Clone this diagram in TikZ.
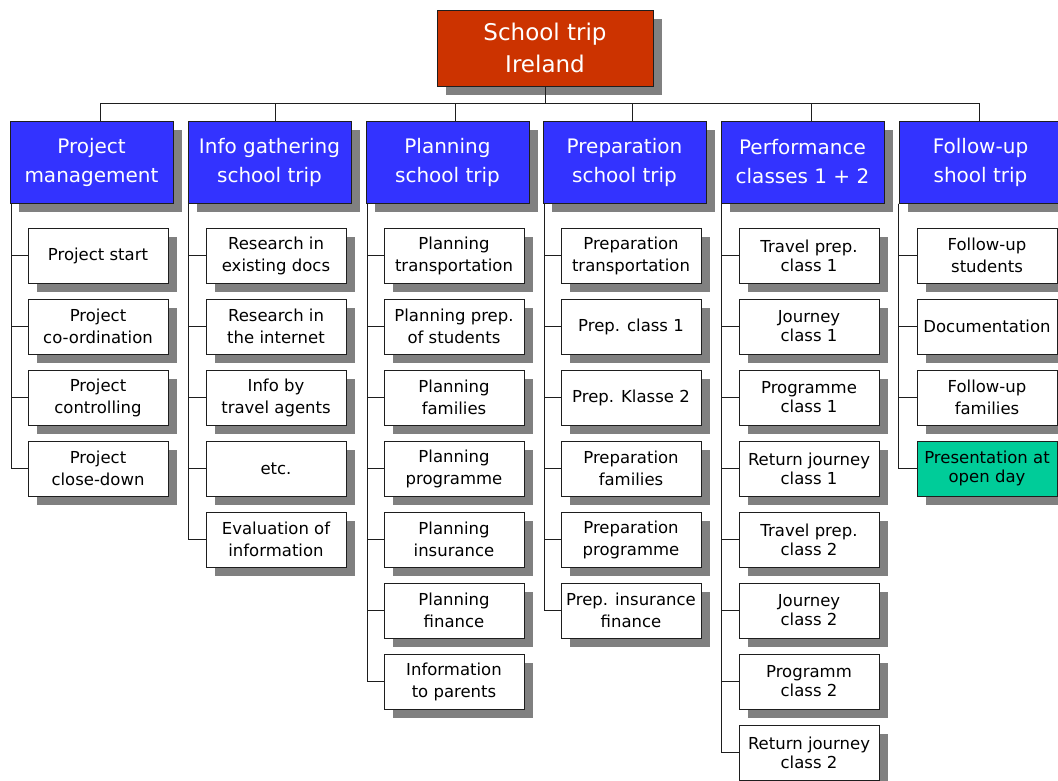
\documentclass[tikz,border=0pt]{standalone}
\usepackage{fontspec}
\setmainfont{DejaVu Sans}
\definecolor{triprust}{RGB}{204,51,0}
\definecolor{tripblue}{RGB}{51,51,255}
\definecolor{tripgreen}{RGB}{0,204,153}
\definecolor{tripshadow}{RGB}{128,128,128}
\definecolor{tripline}{RGB}{30,30,30}
\usetikzlibrary{positioning,shadows,calc}

\begin{document}
\begin{tikzpicture}[x=1pt, y=-1pt,
        shadowed/.style={drop shadow={shadow xshift=9pt, shadow yshift=-9pt,
                         fill=tripshadow, opacity=1}},
        rootbox/.style={rectangle, draw=tripline, line width=1pt, fill=triprust,
                        shadowed, text=white, minimum width=216pt, minimum height=76pt,
                        align=center, font=\fontsize{23}{32}\selectfont},
        headbox/.style={rectangle, draw=tripline, line width=1pt, fill=tripblue,
                        shadowed, text=white, minimum width=163pt, minimum height=82pt,
                        align=center, inner sep=1pt, font=\fontsize{20}{29}\selectfont},
        taskbox/.style={rectangle, draw=tripline, line width=1pt, fill=white,
                        shadowed, minimum width=140pt, minimum height=55pt,
                        align=center, inner sep=1pt, font=\fontsize{16.5}{22}\selectfont},
        tightbox/.style={taskbox, font=\fontsize{16.5}{19}\selectfont},
        conn/.style={draw=tripline, line width=1pt}
      ]
        \useasboundingbox (0,0) rectangle (1058,780);

        % top of the tree
        \node[rootbox] (root) at (545,48) {School trip\\Ireland};
        \coordinate (bus) at (0,103);

        \node[headbox] (pm)     at (91.5,162)  {Project\\management};
        \node[headbox] (info)   at (269.5,162) {Info gathering\\school trip};
        \node[headbox] (plan)   at (447.5,162) {Planning\\school trip};
        \node[headbox] (prep)   at (624.5,162) {Preparation\\school trip};
        \node[headbox] (perf)   at (802.5,162) {Performance\\classes 1 + 2};
        \node[headbox] (follow) at (980.5,162) {Follow-up\\shool trip};

        \draw[conn] (root.south) -- (root.south |- bus);
        \draw[conn] ([xshift=8.5pt]pm.north)     |- (bus -| root.south);
        \draw[conn] ([xshift=5.5pt]info.north)   |- (bus -| root.south);
        \draw[conn] ([xshift=7.5pt]plan.north)   |- (bus -| root.south);
        \draw[conn] ([xshift=7.5pt]prep.north)   |- (bus -| root.south);
        \draw[conn] ([xshift=8.5pt]perf.north)   |- (bus -| root.south);
        \draw[conn] ([xshift=-1.5pt]follow.north) |- (bus -| root.south);

        % project management
        \node[taskbox] (pm1) at (98,255.5) {Project start};
        \node[taskbox] (pm2) at (98,326.5) {Project\\co-ordination};
        \node[taskbox] (pm3) at (98,397.5) {Project\\controlling};
        \node[taskbox] (pm4) at (98,468.5) {Project\\close-down};

        \draw[conn] ([xshift=2pt]pm.south west) |- (pm1.west);
        \draw[conn] ([xshift=2pt]pm.south west) |- (pm2.west);
        \draw[conn] ([xshift=2pt]pm.south west) |- (pm3.west);
        \draw[conn] ([xshift=2pt]pm.south west) |- (pm4.west);

        % info gathering
        \node[taskbox] (info1) at (276,255.5) {Research in\\existing docs};
        \node[taskbox] (info2) at (276,326.5) {Research in\\the internet};
        \node[taskbox] (info3) at (276,397.5) {Info by\\travel agents};
        \node[taskbox] (info4) at (276,468.5) {etc.};
        \node[taskbox] (info5) at (276,539.5) {Evaluation of\\information};

        \draw[conn] ([xshift=1pt]info.south west) |- (info1.west);
        \draw[conn] ([xshift=1pt]info.south west) |- (info2.west);
        \draw[conn] ([xshift=1pt]info.south west) |- (info3.west);
        \draw[conn] ([xshift=1pt]info.south west) |- (info4.west);
        \draw[conn] ([xshift=1pt]info.south west) |- (info5.west);

        % planning
        \node[taskbox] (plan1) at (454,255.5) {Planning\\transportation};
        \node[taskbox] (plan2) at (454,326.5) {Planning prep.\\of students};
        \node[taskbox] (plan3) at (454,397.5) {Planning\\families};
        \node[taskbox] (plan4) at (454,468.5) {Planning\\programme};
        \node[taskbox] (plan5) at (454,539.5) {Planning\\insurance};
        \node[taskbox] (plan6) at (454,610.5) {Planning\\finance};
        \node[taskbox] (plan7) at (454,681.5) {Information\\to parents};

        \draw[conn] ([xshift=2pt]plan.south west) |- (plan1.west);
        \draw[conn] ([xshift=2pt]plan.south west) |- (plan2.west);
        \draw[conn] ([xshift=2pt]plan.south west) |- (plan3.west);
        \draw[conn] ([xshift=2pt]plan.south west) |- (plan4.west);
        \draw[conn] ([xshift=2pt]plan.south west) |- (plan5.west);
        \draw[conn] ([xshift=2pt]plan.south west) |- (plan6.west);
        \draw[conn] ([xshift=2pt]plan.south west) |- (plan7.west);

        % preparation
        \node[taskbox] (prep1) at (631,255.5) {Preparation\\transportation};
        \node[taskbox] (prep2) at (631,326.5) {Prep. class 1};
        \node[taskbox] (prep3) at (631,397.5) {Prep. Klasse 2};
        \node[taskbox] (prep4) at (631,468.5) {Preparation\\families};
        \node[taskbox] (prep5) at (631,539.5) {Preparation\\programme};
        \node[taskbox] (prep6) at (631,610.5) {Prep. insurance\\finance};

        \draw[conn] ([xshift=2pt]prep.south west) |- (prep1.west);
        \draw[conn] ([xshift=2pt]prep.south west) |- (prep2.west);
        \draw[conn] ([xshift=2pt]prep.south west) |- (prep3.west);
        \draw[conn] ([xshift=2pt]prep.south west) |- (prep4.west);
        \draw[conn] ([xshift=2pt]prep.south west) |- (prep5.west);
        \draw[conn] ([xshift=2pt]prep.south west) |- (prep6.west);

        % performance
        \node[tightbox] (perf1) at (809,255.5) {Travel prep.\\class 1};
        \node[tightbox] (perf2) at (809,326.5) {Journey\\class 1};
        \node[tightbox] (perf3) at (809,397.5) {Programme\\class 1};
        \node[tightbox] (perf4) at (809,468.5) {Return journey\\class 1};
        \node[tightbox] (perf5) at (809,539.5) {Travel prep.\\class 2};
        \node[tightbox] (perf6) at (809,610.5) {Journey\\class 2};
        \node[tightbox] (perf7) at (809,681.5) {Programm\\class 2};
        \node[tightbox] (perf8) at (809,752.5) {Return journey\\class 2};

        \draw[conn] ([xshift=1pt]perf.south west) |- (perf1.west);
        \draw[conn] ([xshift=1pt]perf.south west) |- (perf2.west);
        \draw[conn] ([xshift=1pt]perf.south west) |- (perf3.west);
        \draw[conn] ([xshift=1pt]perf.south west) |- (perf4.west);
        \draw[conn] ([xshift=1pt]perf.south west) |- (perf5.west);
        \draw[conn] ([xshift=1pt]perf.south west) |- (perf6.west);
        \draw[conn] ([xshift=1pt]perf.south west) |- (perf7.west);
        \draw[conn] ([xshift=1pt]perf.south west) |- (perf8.west);

        % follow-up
        \node[taskbox] (fol1) at (987,255.5) {Follow-up\\students};
        \node[taskbox] (fol2) at (987,326.5) {Documentation};
        \node[taskbox] (fol3) at (987,397.5) {Follow-up\\families};
        \node[tightbox, fill=tripgreen] (fol4) at (987,468.5) {Presentation at\\open day};

        \draw[conn] ([xshift=0pt]follow.south west) |- (fol1.west);
        \draw[conn] ([xshift=0pt]follow.south west) |- (fol2.west);
        \draw[conn] ([xshift=0pt]follow.south west) |- (fol3.west);
        \draw[conn] ([xshift=0pt]follow.south west) |- (fol4.west);
      \end{tikzpicture}
\end{document}
